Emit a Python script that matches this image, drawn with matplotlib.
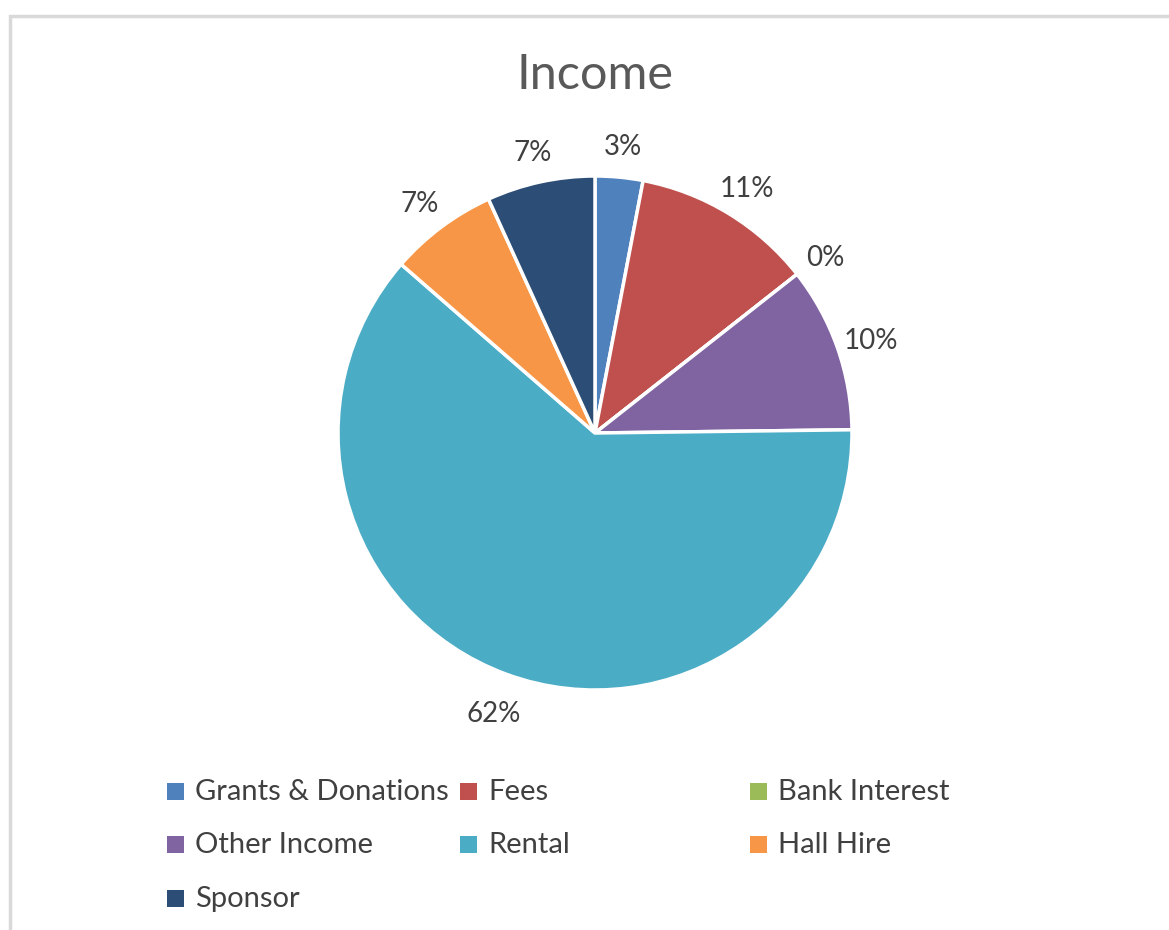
import matplotlib.pyplot as plt
import matplotlib.patches as mpatches
from matplotlib.transforms import offset_copy

# data
categories = ['Grants & Donations', 'Fees', 'Bank Interest', 'Other Income',
              'Rental', 'Hall Hire', 'Sponsor']
shares = [3.0, 11.4, 0.0, 10.4, 61.6, 6.8, 6.8]
colors = ['#4F81BD', '#C0504D', '#9BBB59', '#8064A2',
          '#4BACC6', '#F79646', '#2C4D75']

W, H = 1169, 930
plt.rcParams['font.family'] = ['Lato', 'DejaVu Sans']

fig = plt.figure(figsize=(W / 100, H / 100), dpi=100)

# grey frame of the chart area (cut off on the right and bottom)
fig.add_artist(mpatches.Rectangle((10 / W, -0.1), 1.2, (H - 16) / H + 0.1,
                                  transform=fig.transFigure, fill=False,
                                  edgecolor='#D9D9D9', linewidth=2.5))

cx, cy, r = 595, 433, 257
ax = fig.add_axes([(cx - r) / W, (H - cy - r) / H, 2 * r / W, 2 * r / H])
wedges, _, autotexts = ax.pie(shares, colors=colors, startangle=90,
                              counterclock=False, autopct='%.0f%%',
                              pctdistance=1.14, radius=1,
                              wedgeprops=dict(edgecolor='white', linewidth=2.5),
                              textprops=dict(fontsize=20, color='#404040'))
# excel puts its labels a little lower
shifted = offset_copy(ax.transData, fig=fig, y=-6, units='dots')
for t in autotexts:
    t.set_transform(shifted)
ax.set_xlim(-1, 1)
ax.set_ylim(-1, 1)
ax.set_aspect('equal')
ax.axis('off')

fig.text(595 / W, 1 - 75 / H, 'Income', fontsize=35, color='#595959',
         ha='center', va='center')

# legend, three columns laid out like the original
col_x = [167, 460, 750]
row_y = [792, 845, 899]
for i, (name, c) in enumerate(zip(categories, colors)):
    x = col_x[i % 3]
    y = row_y[i // 3]
    fig.add_artist(mpatches.Rectangle((x / W, (H - y - 8) / H), 17 / W, 17 / H,
                                      transform=fig.transFigure,
                                      facecolor=c, edgecolor='none'))
    fig.text((x + 28) / W, 1 - y / H, name, fontsize=21, color='#404040',
             ha='left', va='center')

fig.savefig('out.png', dpi=100, facecolor='white')
